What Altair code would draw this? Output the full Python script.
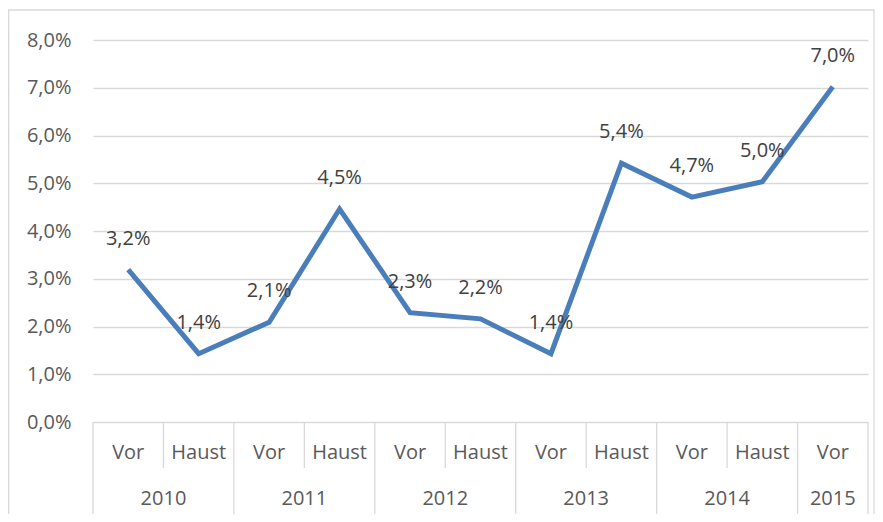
import altair as alt
import pandas as pd

seasons = ["Vor", "Haust", "Vor", "Haust", "Vor", "Haust", "Vor", "Haust", "Vor", "Haust", "Vor"]
years = ["2010", "2010", "2011", "2011", "2012", "2012", "2013", "2013", "2014", "2014", "2015"]
values = [3.19, 1.43, 2.09, 4.46, 2.29, 2.16, 1.43, 5.42, 4.71, 5.03, 7.02]
y_ticks = [0, 1, 2, 3, 4, 5, 6, 7, 8]

n = len(values)
df = pd.DataFrame({"i": list(range(n)), "season": seasons, "year": years, "v": values})
df["pos"] = df["i"] + 0.5

year_df = df.groupby("year", as_index=False)["pos"].mean()

short_b, long_b = [], [0, n]
for k in range(1, n):
    (short_b if years[k] == years[k - 1] else long_b).append(k)
short_df = pd.DataFrame({"b": short_b})
long_df = pd.DataFrame({"b": long_b})
one = pd.DataFrame({"a": [0]})

W, H = 775, 382
FONT = "Open Sans"
FS = 20
GRID = "#d9d9d9"

xs = alt.Scale(domain=[0, n], nice=False, zero=False)
x = alt.X("pos:Q", scale=xs, axis=None)
y = alt.Y(
    "v:Q",
    scale=alt.Scale(domain=[0, 8], nice=False),
    axis=alt.Axis(
        values=y_ticks,
        labelExpr="replace(format(datum.value, '.1f'), '.', ',') + '%'",
        domain=False,
        ticks=False,
        labelPadding=22,
        labelFontSize=FS,
        labelColor="#595959",
        labelFont=FONT,
        gridColor=GRID,
        gridWidth=1.3,
        title=None,
    ),
)

base = alt.Chart(df)

line = base.mark_line(color="#4a7ebb", strokeWidth=5).encode(x=x, y=y)

labels = (
    base.transform_calculate(lab="replace(format(datum.v, '.1f'), '.', ',') + '%'")
    .mark_text(dy=-31, fontSize=FS, font=FONT, color="#404040")
    .encode(x=x, y="v:Q", text="lab:N")
)

season_txt = base.mark_text(fontSize=FS, font=FONT, color="#595959").encode(
    x=x, y=alt.value(H + 31), text="season:N"
)

year_txt = alt.Chart(year_df).mark_text(fontSize=FS, font=FONT, color="#595959").encode(
    x=alt.X("pos:Q", scale=xs, axis=None), y=alt.value(H + 77), text="year:N"
)

short_ticks = alt.Chart(short_df).mark_rule(color=GRID, strokeWidth=1.3).encode(
    x=alt.X("b:Q", scale=xs, axis=None), y=alt.value(H), y2=alt.value(H + 46)
)
long_ticks = alt.Chart(long_df).mark_rule(color=GRID, strokeWidth=1.3).encode(
    x=alt.X("b:Q", scale=xs, axis=None), y=alt.value(H), y2=alt.value(H + 93)
)

border = alt.Chart(one).mark_rect(fillOpacity=0, stroke=GRID, strokeWidth=1.3).encode(
    x=alt.value(-84.3), x2=alt.value(781), y=alt.value(-30), y2=alt.value(H + 130)
)

chart = (
    alt.layer(border, short_ticks, long_ticks, line, labels, season_txt, year_txt)
    .properties(
        width=W,
        height=H,
        autosize=alt.AutoSizeParams(type="none"),
        padding={"left": 85, "top": 32, "right": 7, "bottom": 92},
        background="white",
    )
    .configure_view(strokeWidth=0)
)

chart.save("out.html", embed_options={"renderer": "svg", "actions": False})
